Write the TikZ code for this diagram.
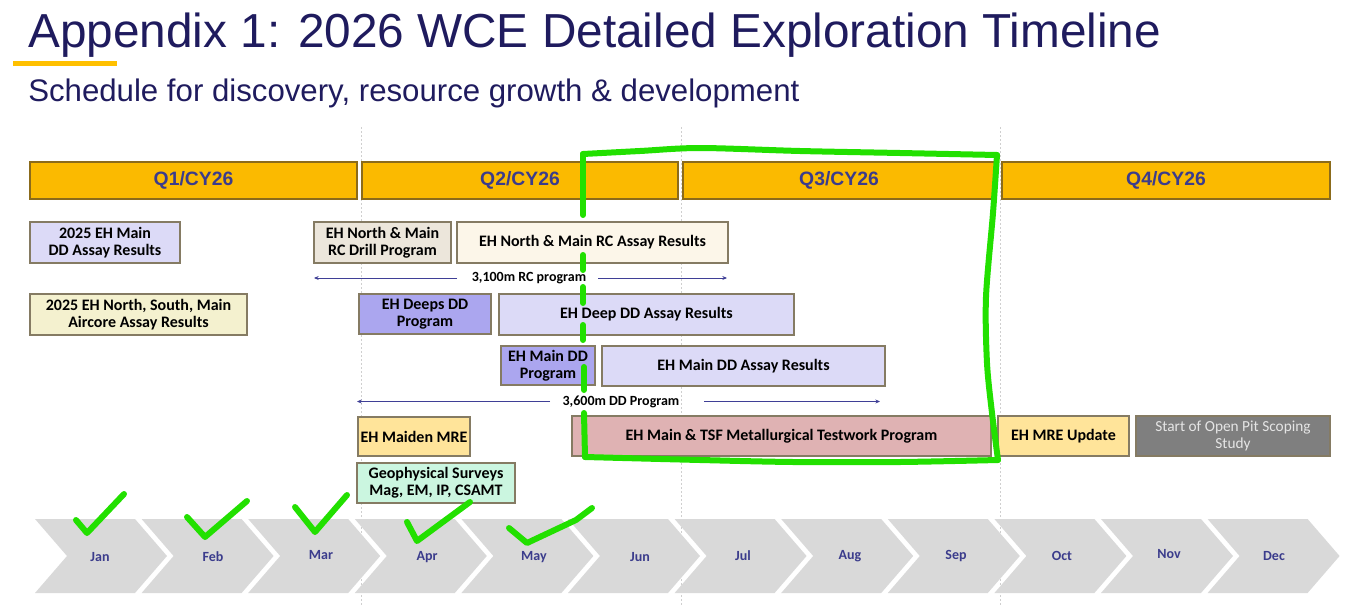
\documentclass[tikz,border=0pt]{standalone}
\usepackage{fontspec}
\setmainfont{Liberation Sans}
\newfontfamily\boxfont{Carlito}
\usetikzlibrary{arrows.meta}
\definecolor{navy}{HTML}{1F1B5E}
\definecolor{qfill}{HTML}{FBBA00}
\definecolor{qborder}{HTML}{8B6B1B}
\definecolor{qtext}{HTML}{3B3C8C}
\definecolor{bcol}{HTML}{857B63}
\definecolor{lav}{HTML}{DCDAF7}
\definecolor{air}{HTML}{F4F1CF}
\definecolor{beige}{HTML}{ECE6DB}
\definecolor{cream}{HTML}{FCF6E9}
\definecolor{purp}{HTML}{ABA6EF}
\definecolor{gold}{HTML}{FFE49A}
\definecolor{mint}{HTML}{CBF6E0}
\definecolor{pink}{HTML}{DFB2B3}
\definecolor{darkgray}{HTML}{7F7F7F}
\definecolor{chev}{HTML}{D9D9D9}
\definecolor{marker}{HTML}{22E000}
\definecolor{arrcol}{HTML}{3F3F96}
\definecolor{vline}{HTML}{CFCFCF}
\definecolor{underl}{HTML}{FFC000}
\newcommand\tbx[7]{\node[#6, minimum width={(#4-#2)*0.75pt}, minimum height={(#5-#3)*0.75pt}] (#1) at ({(#2+#4)/2},{(#3+#5)/2}) {#7};}
\tikzset{
  qbar/.style={draw=qborder, fill=qfill, line width=0.9pt, inner sep=0pt, text=qtext, font=\bfseries\fontsize{14.5}{16}\selectfont},
  tbox/.style={draw=bcol, line width=0.9pt, inner sep=0pt, align=center, text=black, font=\boxfont\bfseries\fontsize{12}{12.5}\selectfont},
  graybox/.style={tbox, fill=darkgray, text=white!90!black, font=\boxfont\fontsize{11.5}{12.5}\selectfont},
  month/.style={inner sep=0pt, text=qtext, font=\boxfont\bfseries\fontsize{10.5}{12}\selectfont},
  spanlbl/.style={inner sep=0pt, text=black, font=\boxfont\bfseries\fontsize{10.5}{12}\selectfont},
  spanarr/.style={draw=arrcol, line width=0.6pt, -{Stealth[length=3.5pt,width=3pt]}},
  greenmark/.style={draw=marker, line width=4.5pt, line cap=round, line join=round},
  gridline/.style={draw=vline, line width=0.5pt, dashed, dash pattern=on 1.5pt off 1.5pt}
}
\begin{document}
\begin{tikzpicture}[x=0.75pt,y=-0.75pt]
\useasboundingbox (0,0) rectangle (1347,607);
% grid lines
\draw[gridline] (361,127) -- (361,607);
\draw[gridline] (681,127) -- (681,607);
\draw[gridline] (1000,127) -- (1000,607);
% title
\node[anchor=base west, inner sep=0pt, text=navy, font=\fontsize{35.8}{40}\selectfont] (title) at (28,47) {Appendix 1: 2026 WCE Detailed Exploration Timeline};
\fill[underl] (13,61) rectangle (117,66);
\node[anchor=base west, inner sep=0pt, text=navy, font=\fontsize{23.4}{26}\selectfont] (subtitle) at (28,101) {Schedule for discovery, resource growth \& development};
% quarters
\tbx{q1}{30}{162}{357}{199}{qbar}{Q1/CY26}
\tbx{q2}{362}{162}{678}{199}{qbar}{Q2/CY26}
\tbx{q3}{683}{162}{995}{199}{qbar}{Q3/CY26}
\tbx{q4}{1002}{162}{1330}{199}{qbar}{Q4/CY26}
% boxes
\tbx{dd25}{30}{222}{180}{263}{tbox, fill=lav}{2025 EH Main\\DD Assay Results}
\tbx{air25}{30}{294}{247}{335}{tbox, fill=air}{2025 EH North, South, Main\\Aircore Assay Results}
\tbx{rcdrill}{314}{222}{451}{263}{tbox, fill=beige}{EH North \& Main\\RC Drill Program}
\tbx{rcassay}{457}{222}{728}{263}{tbox, fill=cream}{EH North \& Main RC Assay Results}
\tbx{deepsdd}{359}{294}{491}{334}{tbox, fill=purp}{EH Deeps DD\\Program}
\tbx{deepassay}{499}{294}{794}{335}{tbox, fill=lav}{EH Deep DD Assay Results}
\tbx{maindd}{501}{346}{595}{385}{tbox, fill=purp}{EH Main DD\\Program}
\tbx{mainassay}{602}{346}{885}{386}{tbox, fill=lav}{EH Main DD Assay Results}
\tbx{maiden}{358}{417}{470}{456}{tbox, fill=gold}{EH Maiden MRE}
\tbx{geo}{357}{463}{515}{503}{tbox, fill=mint}{Geophysical Surveys\\Mag, EM, IP, CSAMT}
\tbx{metal}{572}{416}{991}{456}{tbox, fill=pink}{EH Main \& TSF Metallurgical Testwork Program}
\tbx{mreupd}{998}{416}{1129}{456}{tbox, fill=gold}{EH MRE Update}
\tbx{scoping}{1136}{416}{1330}{456}{graybox}{Start of Open Pit Scoping\\Study}
% span arrows
\node[spanlbl] (rclbl) at (529,278) {3,100m RC program};
\coordinate (rcL) at (314,278);
\coordinate (rcLs) at (457,278);
\coordinate (rcRs) at (598,278);
\coordinate (rcR) at (727,278);
\draw[spanarr] (rcLs) -- (rcL);
\draw[spanarr] (rcRs) -- (rcR);
\node[spanlbl] (ddlbl) at (621,401.5) {3,600m DD Program};
\coordinate (ddL) at (357,401.5);
\coordinate (ddLs) at (550,401.5);
\coordinate (ddRs) at (704,401.5);
\coordinate (ddR) at (880,401.5);
\draw[spanarr] (ddLs) -- (ddL);
\draw[spanarr] (ddRs) -- (ddR);
% month chevrons
\foreach \m/\lx/\ly [count=\i from 0] in {Jan/100/557,Feb/213/557,Mar/321/555,Apr/427/557,May/534/557,Jun/640/557,Jul/743/556,Aug/850/556,Sep/956/556,Oct/1062/556,Nov/1169/554,Dec/1274/556}{
  \pgfmathsetmacro\xl{35+106.6*\i}
  \fill[chev] (\xl,519) -- ++(100,0) -- ++(32,37) -- ++(-32,37) -- ++(-100,0) -- ++(32,-37) -- cycle;
  \node[month] (m\i) at (\lx,\ly) {\m};
}
% green hand-drawn marks
\draw[greenmark] (76,520) -- (87,533) -- (124,494);
\draw[greenmark] (187,517) -- (205,537) -- (247,501);
\draw[greenmark] (295,507) -- (315,532) -- (347,495);
\draw[greenmark] (407,522) -- (417,541) -- (470,502);
\draw[greenmark] (509,528) -- (527,543) -- (576,520) -- (592,508);
\draw[greenmark] (583,215) -- (583,154);
\draw[greenmark] plot[smooth] coordinates {(583,154) (640,151) (700,148) (800,151) (900,153) (997,155)};
\draw[greenmark] plot[smooth] coordinates {(997,155) (993,213) (986,297) (987,363) (992,413) (998,460)};
\draw[greenmark] plot[smooth] coordinates {(998,460) (900,462) (793,462) (700,460) (585,457)};
\draw[greenmark] (585,457) -- (584,413);
\draw[greenmark] (583,255) -- (583,270);
\draw[greenmark] (583,287) -- (583,303);
\draw[greenmark] (583,325) -- (583,340);
\draw[greenmark] (584,367) -- (584,390);
\end{tikzpicture}
\end{document}
